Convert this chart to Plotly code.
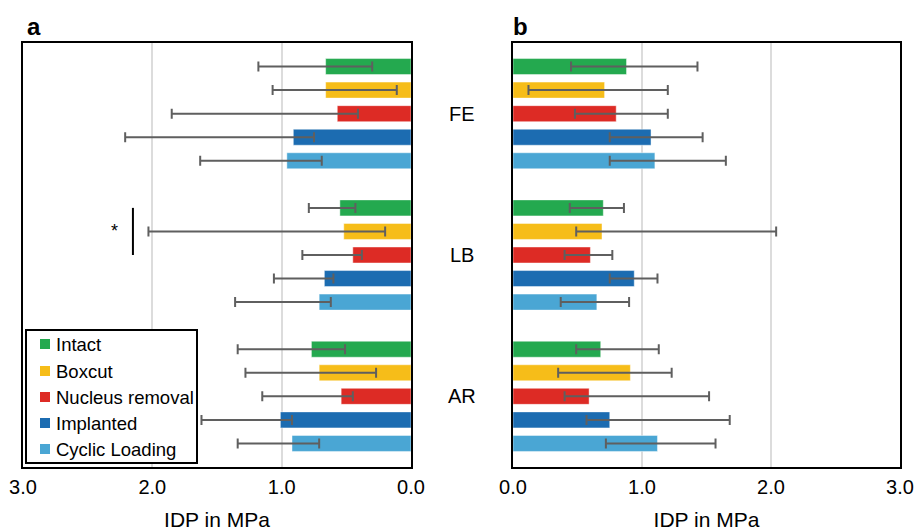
import plotly.graph_objects as go

# Loading cases (rows, top to bottom) and specimen conditions (bars within a case)
cases = ["FE", "LB", "AR"]
conditions = ["Intact", "Boxcut", "Nucleus removal", "Implanted", "Cyclic Loading"]
colors = ["#24a94f", "#f6bd19", "#dd2b25", "#1c6cb1", "#4aa6d4"]

# Panel a: IDP values (MPa) per case, with lower / upper whisker ends
a_value = {
    "FE": [0.66, 0.66, 0.57, 0.91, 0.96],
    "LB": [0.55, 0.52, 0.45, 0.67, 0.71],
    "AR": [0.77, 0.71, 0.54, 1.01, 0.92],
}
a_low = {
    "FE": [0.30, 0.11, 0.41, 0.75, 0.69],
    "LB": [0.43, 0.20, 0.38, 0.60, 0.62],
    "AR": [0.51, 0.27, 0.45, 0.92, 0.71],
}
a_high = {
    "FE": [1.18, 1.07, 1.85, 2.21, 1.63],
    "LB": [0.79, 2.03, 0.84, 1.06, 1.36],
    "AR": [1.34, 1.28, 1.15, 1.62, 1.34],
}

# Panel b: IDP values (MPa) per case, with lower / upper whisker ends
b_value = {
    "FE": [0.88, 0.71, 0.80, 1.07, 1.10],
    "LB": [0.70, 0.69, 0.60, 0.94, 0.65],
    "AR": [0.68, 0.91, 0.59, 0.75, 1.12],
}
b_low = {
    "FE": [0.45, 0.12, 0.48, 0.75, 0.75],
    "LB": [0.44, 0.49, 0.40, 0.75, 0.37],
    "AR": [0.49, 0.35, 0.40, 0.57, 0.72],
}
b_high = {
    "FE": [1.43, 1.20, 1.20, 1.47, 1.65],
    "LB": [0.86, 2.04, 0.77, 1.12, 0.90],
    "AR": [1.13, 1.23, 1.52, 1.68, 1.57],
}

x_ticks = [0, 1, 2, 3]
x_ticktext = ["0.0", "1.0", "2.0", "3.0"]

FONT = "Arial, 'Liberation Sans', sans-serif"
ERR_COLOR = "#5f5f5f"
W, H = 918, 532

# row slot for each bar: one empty slot between cases
slot = len(conditions) + 1


def positions(ci):
    return [g * slot + ci for g in range(len(cases))]


def px(x):
    return x / W


def py(y):
    return 1 - y / H


fig = go.Figure()


def add_panel(values, lows, highs, xa, ya):
    for ci, cond in enumerate(conditions):
        v = [values[c][ci] for c in cases]
        lo = [lows[c][ci] for c in cases]
        hi = [highs[c][ci] for c in cases]
        fig.add_trace(go.Bar(
            x=v,
            y=positions(ci),
            orientation="h",
            width=0.68,
            name=cond,
            showlegend=False,
            marker=dict(color=colors[ci], line=dict(color="rgba(255,255,255,0.45)", width=1)),
            error_x=dict(
                type="data",
                symmetric=False,
                array=[h - x for h, x in zip(hi, v)],
                arrayminus=[x - l for x, l in zip(v, lo)],
                color=ERR_COLOR,
                thickness=2,
                width=5,
            ),
            xaxis=xa,
            yaxis=ya,
        ))


add_panel(a_value, a_low, a_high, "x", "y")
add_panel(b_value, b_low, b_high, "x2", "y2")

n_slots = len(cases) * slot - 1
y_range = [n_slots, -1]

axis_common = dict(
    tickvals=x_ticks,
    ticktext=x_ticktext,
    showgrid=True,
    gridcolor="#dcdcdc",
    gridwidth=1.5,
    showline=True,
    linecolor="black",
    linewidth=2,
    mirror=True,
    ticks="",
    ticklabelstandoff=1,
    tickfont=dict(family=FONT, size=20, color="black"),
    zeroline=False,
    automargin=False,
)

y_common = dict(
    domain=[py(467), py(43)],
    range=y_range,
    showticklabels=False,
    showgrid=False,
    zeroline=False,
    showline=True,
    linecolor="black",
    linewidth=2,
    mirror=True,
    automargin=False,
)

title_font = dict(family=FONT, size=21, color="black")

fig.update_layout(
    width=W,
    height=H,
    margin=dict(l=0, r=0, t=0, b=0, autoexpand=False),
    paper_bgcolor="white",
    plot_bgcolor="white",
    barmode="overlay",
    showlegend=False,
    font=dict(family=FONT, color="black"),
    xaxis=dict(
        domain=[px(23), px(411)],
        range=[3, 0],
        title=dict(text="IDP in MPa", font=title_font, standoff=15),
        anchor="y",
        **axis_common,
    ),
    yaxis=dict(anchor="x", **y_common),
    xaxis2=dict(
        domain=[px(513), px(900)],
        range=[0, 3],
        title=dict(text="IDP in MPa", font=title_font, standoff=15),
        anchor="y2",
        **axis_common,
    ),
    yaxis2=dict(anchor="x2", **y_common),
)

# legend box inside panel a
fig.add_shape(type="rect", xref="paper", yref="paper",
              x0=px(26), x1=px(197), y0=py(463), y1=py(330),
              fillcolor="white", line=dict(color="black", width=2), layer="above")
legend_y = [344, 371, 397, 423, 449]
for cond, col, ly in zip(conditions, colors, legend_y):
    fig.add_shape(type="rect", xref="paper", yref="paper",
                  x0=px(40), x1=px(50), y0=py(ly + 5), y1=py(ly - 5),
                  fillcolor=col, line=dict(width=0), layer="above")
    fig.add_annotation(x=px(54), xref="paper", y=py(ly), yref="paper",
                       text=cond, showarrow=False, xanchor="left", yanchor="middle",
                       font=dict(family=FONT, size=18.5, color="black"))

# case labels between the two panels
for g, case in enumerate(cases):
    fig.add_annotation(
        x=px(462), xref="paper",
        y=g * slot + 2, yref="y",
        text=case, showarrow=False,
        font=dict(family=FONT, size=20, color="black"),
        xanchor="center", yanchor="middle",
    )

# panel letters
fig.add_annotation(x=px(25), xref="paper", y=py(26), yref="paper",
                   text="<b>a</b>", showarrow=False, xanchor="left", yanchor="middle",
                   font=dict(family=FONT, size=24, color="black"))
fig.add_annotation(x=px(511), xref="paper", y=py(26), yref="paper",
                   text="<b>b</b>", showarrow=False, xanchor="left", yanchor="middle",
                   font=dict(family=FONT, size=24, color="black"))

# significance marker in panel a (LB: Intact vs Nucleus removal)
lb = cases.index("LB") * slot
fig.add_shape(type="line", xref="x", yref="y",
              x0=2.15, x1=2.15, y0=lb + 0, y1=lb + 2,
              line=dict(color="black", width=2))
fig.add_annotation(x=2.29, xref="x", y=lb + 1, yref="y",
                   text="*", showarrow=False,
                   font=dict(family=FONT, size=18, color="black"),
                   xanchor="center", yanchor="middle")

fig.write_html("out.html")
